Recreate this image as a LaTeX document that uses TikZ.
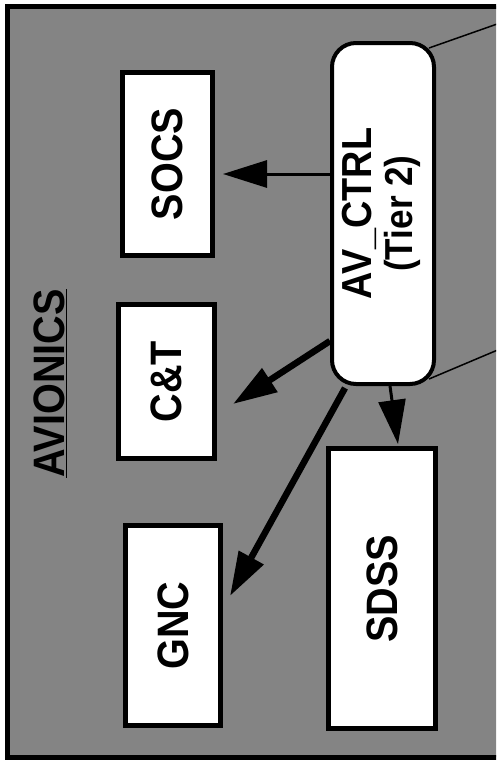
\documentclass[tikz,border=0pt]{standalone}
\usepackage{fontspec}
\setmainfont{Liberation Sans}[FakeStretch=0.9]
\usepackage{tikz}
\usetikzlibrary{calc, arrows.meta}
\definecolor{screenGray}{RGB}{132, 132, 132}

\begin{document}
\begin{tikzpicture}[x=1pt, y=-1pt, >={Triangle[length=44pt, width=27pt]},
  font={\bfseries\fontsize{44}{44}\selectfont},
  unitbox/.style={draw, line width=5pt, fill=white, inner sep=0pt},
  ctrlbox/.style={draw, line width=4pt, fill=white, rounded corners=24pt, inner sep=0pt},
  thinlink/.style={->, line width=3pt},
  thicklink/.style={->, line width=6.5pt},
  zoomline/.style={line width=1.5pt}]
  \useasboundingbox (0,0) rectangle (496,763);
  \clip (0,0) rectangle (496,763);
  \draw[line width=5pt, fill=screenGray] (7,6) rectangle (540,757);

  \node (avionics) at (50,383.5) {\rotatebox{90}{\underline{AVIONICS}}};

  \node[unitbox, minimum width=90pt, minimum height=183pt] (socs) at (167.5,164) {\rotatebox{90}{SOCS}};
  \node[unitbox, minimum width=96pt, minimum height=154pt] (ct) at (166.5,381.5) {\rotatebox{90}{C\&T}};
  \node[unitbox, minimum width=95pt, minimum height=200pt] (gnc) at (173,625.5) {\rotatebox{90}{GNC}};
  \node[unitbox, minimum width=107pt, minimum height=280pt] (sdss) at (382,588.5) {\rotatebox{90}{SDSS}};

  \coordinate (calloutA) at (500,23);
  \coordinate (calloutB) at (500,349);
  \node[ctrlbox, minimum width=102pt, minimum height=341pt] (avctrl) at (383,213.5)
    {\rotatebox{90}{\fontsize{42}{41}\selectfont\begin{tabular}{@{}c@{}}AV\_CTRL\\
     {\fontsize{39}{41}\selectfont(Tier 2)}\end{tabular}}};
  \draw[zoomline] ($(avctrl.north east)+(-7,7)$) -- (calloutA);
  \draw[zoomline] ($(avctrl.south east)+(-7,-7)$) -- (calloutB);

  \coordinate (socsin) at (223,174);
  \coordinate (ctin) at (233,404);
  \coordinate (gncin) at (230,596);
  \coordinate (sdssin) at (398,444);
  \draw[thinlink] (avctrl.west |- socsin) -- (socsin);
  \draw[thicklink] ($(avctrl.south west)+(0,-45)$) -- (ctin);
  \draw[thicklink] ($(avctrl.south west)+(15,2)$) -- (gncin);
  \draw[thinlink] ($(avctrl.south)+(7,0)$) -- (sdssin);
\end{tikzpicture}
\end{document}
